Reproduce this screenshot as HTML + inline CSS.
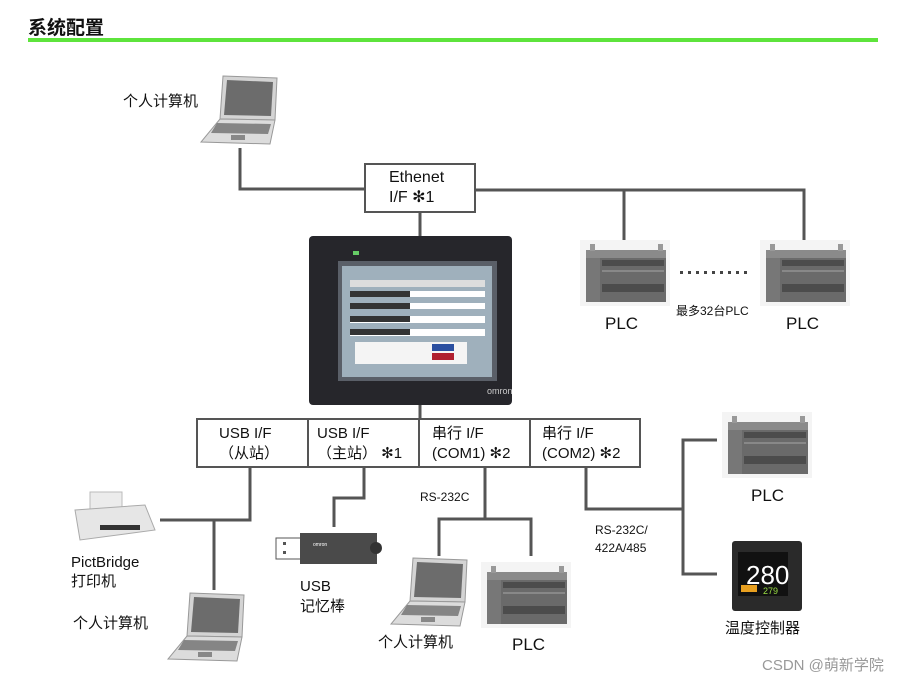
<!DOCTYPE html>
<html><head><meta charset="utf-8"><style>
body{margin:0;background:#fff;}
#c{position:relative;width:913px;height:682px;overflow:hidden;font-family:"Liberation Sans","Noto Sans CJK SC",sans-serif;color:#111;}
.t{position:absolute;white-space:nowrap;}
</style></head><body><div id="c">
<svg width="913" height="682" style="position:absolute;left:0;top:0">
<defs>
<g id="lap">
<polygon points="22,0 76,2 74,44 19,43" fill="#d4d4d4" stroke="#999" stroke-width="1"/>
<polygon points="26,4 72,6 70,40 23,39" fill="#6c6c6c"/>
<polygon points="19,43 74,44 69,68 0,66" fill="#dcdcdc" stroke="#999" stroke-width="1"/>
<polygon points="16,47 70,48 67,58 10,57" fill="#858585"/>
<rect x="30" y="59" width="14" height="5" fill="#888"/>
</g>
<g id="plc">
<rect x="0" y="0" width="90" height="66" fill="#f4f4f4"/>
<rect x="6" y="10" width="80" height="52" fill="#6a6a6a"/>
<rect x="6" y="10" width="80" height="8" fill="#8a8a8a"/>
<rect x="22" y="20" width="62" height="6" fill="#4c4c4c"/>
<rect x="22" y="30" width="62" height="2" fill="#888"/>
<rect x="22" y="44" width="62" height="8" fill="#4c4c4c"/>
<rect x="6" y="18" width="14" height="44" fill="#777"/>
<rect x="10" y="4" width="5" height="7" fill="#999"/><rect x="78" y="4" width="5" height="7" fill="#999"/>
</g>
</defs>
<text x="28" y="34" font-size="19" font-weight="bold" font-family="Liberation Sans,Noto Sans CJK SC,sans-serif" fill="#111">系统配置</text>
<rect x="28" y="38" width="850" height="4" fill="#5ee43c"/>
<g stroke="#555" stroke-width="3" fill="none">
<polyline points="240,148 240,189 366,189"/>
<polyline points="474,190 804,190 804,240"/>
<line x1="624" y1="190" x2="624" y2="240"/>
<line x1="420" y1="211" x2="420" y2="236"/>
<line x1="420" y1="404" x2="420" y2="419"/>
<polyline points="250,467 250,520 160,520"/>
<line x1="214" y1="520" x2="214" y2="590"/>
<polyline points="364,467 364,498 334,498 334,527"/>
<line x1="485" y1="467" x2="485" y2="519"/>
<polyline points="439,556 439,519 531,519 531,556"/>
<polyline points="586,467 586,509 683,509"/>
<polyline points="717,440 683,440 683,574 717,574"/>
</g>
<rect x="365" y="164" width="110" height="48" fill="#fff" stroke="#555" stroke-width="2"/>
<rect x="197" y="419" width="443" height="48" fill="#fff" stroke="#555" stroke-width="2"/>
<g stroke="#555" stroke-width="2"><line x1="308" y1="419" x2="308" y2="467"/><line x1="419" y1="419" x2="419" y2="467"/><line x1="530" y1="419" x2="530" y2="467"/></g>
<use href="#lap" x="201" y="76"/>
<use href="#lap" x="168" y="593"/>
<use href="#lap" x="391" y="558"/>
<use href="#plc" x="580" y="240"/>
<use href="#plc" x="760" y="240"/>
<use href="#plc" x="481" y="562"/>
<use href="#plc" x="722" y="412"/>
<!-- HMI -->
<rect x="309" y="236" width="203" height="169" rx="4" fill="#26262b"/>
<rect x="338" y="261" width="159" height="120" fill="#5a5f68"/>
<rect x="342" y="266" width="150" height="111" fill="#9fb0bc"/>
<rect x="350" y="280" width="135" height="7" fill="#ddd"/>
<rect x="350" y="291" width="135" height="6" fill="#fff"/><rect x="350" y="291" width="60" height="6" fill="#333"/>
<rect x="350" y="303" width="135" height="6" fill="#fff"/><rect x="350" y="303" width="60" height="6" fill="#333"/>
<rect x="350" y="316" width="135" height="7" fill="#fff"/><rect x="350" y="316" width="60" height="6" fill="#333"/>
<rect x="350" y="329" width="135" height="7" fill="#fff"/><rect x="350" y="329" width="60" height="6" fill="#333"/>
<rect x="355" y="342" width="112" height="22" fill="#f4f4f4"/>
<rect x="432" y="344" width="22" height="7" fill="#2a4fa0"/><rect x="432" y="353" width="22" height="7" fill="#b02030"/>
<rect x="353" y="251" width="6" height="4" fill="#6c6"/>
<text x="487" y="394" font-size="9" fill="#ccc" font-family="Liberation Sans,sans-serif">omron</text>
<!-- printer -->
<rect x="90" y="492" width="32" height="18" fill="#ececec" stroke="#bbb"/>
<polygon points="75,510 145,505 155,530 80,540" fill="#e6e6e6" stroke="#aaa"/>
<rect x="100" y="525" width="40" height="5" fill="#333"/>
<!-- usb stick -->
<rect x="276" y="538" width="25" height="21" fill="#fff" stroke="#555"/>
<rect x="283" y="542" width="3" height="3" fill="#555"/><rect x="283" y="551" width="3" height="3" fill="#555"/>
<rect x="300" y="533" width="77" height="31" fill="#4a4a4a"/>
<circle cx="376" cy="548" r="6" fill="#333"/>
<text x="313" y="546" font-size="5" fill="#fff">omron</text>
<!-- temp controller -->
<rect x="732" y="541" width="70" height="70" rx="3" fill="#2a2a2a"/>
<rect x="738" y="552" width="50" height="44" fill="#111"/>
<text x="746" y="584" font-size="26" fill="#fff" font-family="Liberation Sans,sans-serif">280</text>
<text x="763" y="594" font-size="9" fill="#9d4" font-family="Liberation Sans,sans-serif">279</text>
<rect x="741" y="585" width="16" height="7" fill="#e8a020"/>
<g fill="#444"><rect x="680" y="271" width="3" height="3"/><rect x="688" y="271" width="3" height="3"/><rect x="696" y="271" width="3" height="3"/><rect x="704" y="271" width="3" height="3"/><rect x="712" y="271" width="3" height="3"/><rect x="720" y="271" width="3" height="3"/><rect x="728" y="271" width="3" height="3"/><rect x="736" y="271" width="3" height="3"/><rect x="744" y="271" width="3" height="3"/></g>
</svg>
<div class="t" style="left:123px;top:90px;font-size:15px">个人计算机</div>
<div class="t" style="left:389px;top:168px;font-size:16px;line-height:20px">Ethenet<br>I/F ✻1</div>
<div class="t" style="left:605px;top:314px;font-size:17px">PLC</div>
<div class="t" style="left:786px;top:314px;font-size:17px">PLC</div>
<div class="t" style="left:676px;top:302px;font-size:12px">最多32台PLC</div>
<div class="t" style="left:219px;top:424px;font-size:15px;line-height:20px">USB I/F<br>（从站）</div>
<div class="t" style="left:317px;top:424px;font-size:15px;line-height:20px">USB I/F<br>（主站） ✻1</div>
<div class="t" style="left:432px;top:424px;font-size:15px;line-height:20px">串行 I/F<br>(COM1) ✻2</div>
<div class="t" style="left:542px;top:424px;font-size:15px;line-height:20px">串行 I/F<br>(COM2) ✻2</div>
<div class="t" style="left:420px;top:490px;font-size:12px">RS-232C</div>
<div class="t" style="left:595px;top:521px;font-size:12px;line-height:18px">RS-232C/<br>422A/485</div>
<div class="t" style="left:71px;top:553px;font-size:15px;line-height:19px">PictBridge<br>打印机</div>
<div class="t" style="left:73px;top:612px;font-size:15px">个人计算机</div>
<div class="t" style="left:300px;top:577px;font-size:15px;line-height:20px">USB<br>记忆棒</div>
<div class="t" style="left:378px;top:631px;font-size:15px">个人计算机</div>
<div class="t" style="left:512px;top:635px;font-size:17px">PLC</div>
<div class="t" style="left:751px;top:486px;font-size:17px">PLC</div>
<div class="t" style="left:725px;top:617px;font-size:15px">温度控制器</div>
<div class="t" style="left:762px;top:654px;font-size:15px;color:#999">CSDN @萌新学院</div>
</div></body></html>
